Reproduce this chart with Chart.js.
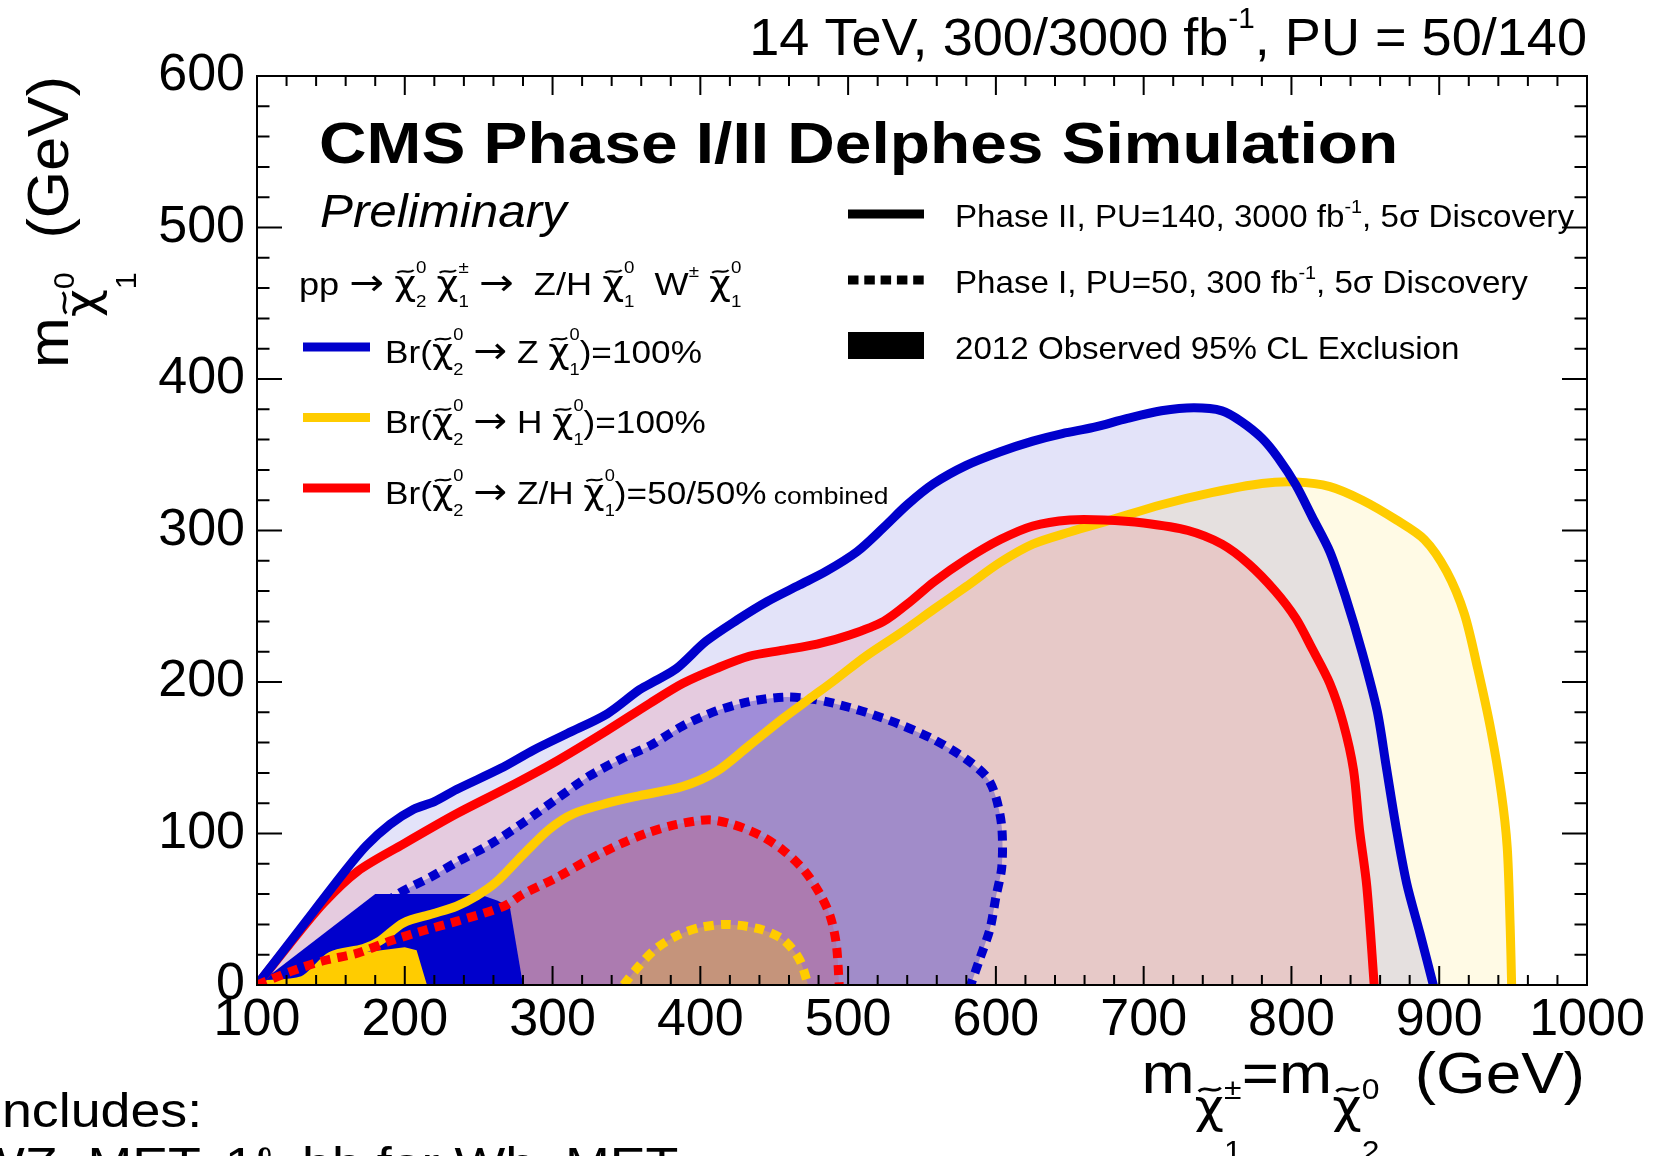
<!DOCTYPE html>
<html>
<head>
<meta charset="utf-8">
<script src="https://cdn.jsdelivr.net/npm/chart.js@4.4.1/dist/chart.umd.min.js"></script>
<style>
  html, body { margin: 0; padding: 0; background: #fff; }
  canvas { display: block; }
</style>
</head>
<body>
<canvas id="grafica" width="1657" height="1156"></canvas>
<script>
(function () {

  // ejes (GeV)
  const xTicks = [100, 200, 300, 400, 500, 600, 700, 800, 900, 1000];
  const yTicks = [0, 100, 200, 300, 400, 500, 600];

  // contornos de descubrimiento 5 sigma: [m(chi1+-)=m(chi2^0), m(chi1^0)]
  const faseIIZ = [[100,0],[130,38],[161,77],[174,92],[190,106],[206,116],[220,121],[235,129],[265,143],[287,155],[310,166],[337,179],[359,195],[370,201],[384,209],[404,227],[425,241],[445,253],[467,264],[485,273],[506,286],[524,302],[540,317],[558,331],[580,343],[603,352],[625,359],[645,364],[666,368],[689,374],[712,379],[734,381],[753,379],[766,372],[780,361],[791,348],[803,330],[814,309],[826,286],[837,255],[848,219],[858,181],[864,145],[871,103],[878,67],[887,34],[896,0]];
  const faseIIH = [[100,0],[131,3],[150,19],[172,24],[183,29],[199,41],[219,47],[235,52],[249,59],[262,68],[280,86],[298,103],[314,113],[337,120],[359,125],[388,131],[411,141],[433,158],[456,176],[474,189],[492,202],[512,217],[535,232],[558,248],[580,263],[603,279],[625,291],[650,299],[678,307],[712,317],[746,325],[780,331],[803,332],[826,329],[848,320],[871,307],[890,294],[905,273],[917,245],[926,209],[935,168],[942,127],[946,91],[948,39],[949,0]];
  const faseIIZH = [[100,0],[122,27],[145,54],[168,75],[199,93],[235,113],[269,130],[303,148],[337,168],[366,186],[388,199],[411,209],[433,217],[456,221],[479,225],[501,231],[524,240],[542,253],[558,266],[580,281],[603,294],[625,303],[650,307],[673,307],[700,305],[730,300],[753,291],[771,278],[789,260],[803,242],[814,222],[826,199],[835,173],[842,142],[846,103],[851,65],[856,0]];
  const faseIZ = [[100,0],[118,8],[150,30],[197,61],[217,71],[235,81],[258,93],[280,107],[303,123],[325,138],[348,150],[366,158],[388,171],[411,181],[433,187],[456,190],[474,189],[490,186],[512,180],[535,172],[558,162],[580,149],[594,137],[600,124],[604,104],[604,78],[600,58],[596,37],[589,17],[583,0]];
  const faseIZH = [[100,0],[123,9],[145,16],[168,21],[190,29],[213,36],[235,42],[267,52],[280,60],[303,71],[325,83],[348,94],[366,101],[384,106],[406,109],[422,106],[440,99],[456,89],[470,76],[481,60],[488,45],[492,27],[494,0]];
  const faseIH = [[348,0],[358,12],[370,24],[385,33],[400,38],[418,40],[440,37],[456,30],[467,17],[473,0]];

  // exclusion observada 2012 (95% CL)
  const excl2012Z = [[100,0],[180,60],[250,60],[262,56],[271,52],[280,0]];
  const excl2012H = [[131,0],[151,20],[180,22.5],[200,25],[208,23],[215,0]];

  const AZUL = '#0000cc';
  const AMARILLO = '#ffcc00';
  const ROJO = '#ff0000';
  const FUENTE = '"Liberation Sans", Helvetica, Arial, sans-serif';
  const GRIEGA = '"DejaVu Sans", sans-serif';
  const NADA = 'rgba(0,0,0,0)';

  const puntos = arr => arr.map(p => ({ x: p[0], y: p[1] }));

  function area(arr, color, order) {
    return { data: puntos(arr), showLine: true, fill: 'shape', backgroundColor: color,
      borderColor: NADA, borderWidth: 0, pointRadius: 0, tension: 0.3, clip: 0, order };
  }
  function linea(arr, color, punteada, order) {
    return { data: puntos(arr), showLine: true, fill: false, borderColor: color, borderWidth: 9,
      borderDash: punteada ? [10, 7] : [], borderCapStyle: 'butt', borderJoinStyle: 'round',
      pointRadius: 0, tension: 0.3, clip: 0, order };
  }
  function poligono(arr, color, order) {
    return { data: puntos(arr), showLine: true, fill: 'shape', backgroundColor: color,
      borderColor: NADA, borderWidth: 0, pointRadius: 0, tension: 0, clip: 0, order };
  }

  // texto con sub/superindices (estilo TLatex)
  function fuente(r, size) {
    return (r.w || '') + ' ' + (size * (r.s || 1)).toFixed(1) + 'px ' + (r.f || FUENTE);
  }
  function medir(ctx, r, size) {
    ctx.font = fuente(r, size);
    return ctx.measureText(r.t).width;
  }
  function ancho(ctx, runs, size) {
    let w = 0;
    runs.forEach(r => {
      w += r.pila ? Math.max(...r.pila.map(p => medir(ctx, p, size))) : medir(ctx, r, size);
    });
    return w;
  }
  function texto(ctx, runs, x, y, size, align, sx) {
    sx = sx || 1;
    const w = ancho(ctx, runs, size) * sx;
    if (align === 'right') x -= w;
    ctx.save();
    ctx.translate(x, y);
    ctx.scale(sx, 1);
    ctx.textBaseline = 'alphabetic';
    ctx.textAlign = 'left';
    let cx = 0;
    runs.forEach(r => {
      const items = r.pila ? r.pila : [r];
      let adv = 0;
      items.forEach(p => {
        ctx.font = fuente(p, size);
        const py = (p.dy || 0) * size;
        const wp = ctx.measureText(p.t).width;
        ctx.fillText(p.t, cx, py);
        if (p.tilde) {
          const fs = size * (p.s || 1);
          const W = wp * 0.75, x0 = cx + wp * 0.14, ty = py - fs * 0.7, a = fs * 0.04;
          ctx.save();
          ctx.lineWidth = fs * 0.06;
          ctx.strokeStyle = '#000';
          ctx.beginPath();
          ctx.moveTo(x0, ty + a);
          ctx.bezierCurveTo(x0 + W * 0.35, ty - 2.6 * a, x0 + W * 0.65, ty + 2.6 * a, x0 + W, ty - a);
          ctx.stroke();
          ctx.restore();
        }
        adv = Math.max(adv, wp);
      });
      cx += adv;
    });
    ctx.restore();
  }
  const T = (t, o) => Object.assign({ t }, o || {});
  const FLECHA = T('\u2192', { f: GRIEGA, s: 1.15 });
  // chi tilde dentro del texto de la leyenda
  const chiL = (sup, sub) => [T('χ', { tilde: true, f: GRIEGA, s: 1.05 }),
    { pila: [T(sup, { s: 0.52, dy: -0.7 }), T(sub, { s: 0.52, dy: 0.38 })] }];
  // chi tilde como subindice de m
  const chiM = (sup, sub) => [T('χ', { tilde: true, f: GRIEGA, s: 0.8, dy: 0.5 }),
    { pila: [T(sup, { s: 0.5, dy: 0.1 }), T(sub, { s: 0.5, dy: 1.17 })] }];

  const tituloX = [T('m'), ...chiM('±', '1'), T('=m'), ...chiM('0', '2'), T('  (GeV)')];
  const tituloY = [T('m'), ...chiM('0', '1'), T('  (GeV)')];
  const cabecera = [T('14 TeV, 300/3000 fb'), T('-1', { s: 0.55, dy: -0.52 }), T(', PU = 50/140')];
  const proceso = [T('pp '), FLECHA, T(' '), ...chiL('0', '2'), T(' '), ...chiL('±', '1'), T(' '), FLECHA,
    T('  Z/H '), ...chiL('0', '1'), T('  W'), T('±', { s: 0.52, dy: -0.55 }), T(' '), ...chiL('0', '1')];
  const leyendaIzq = [
    { color: AZUL, runs: [T('Br('), ...chiL('0', '2'), T(' '), FLECHA, T(' Z '), ...chiL('0', '1'), T(')=100%')] },
    { color: AMARILLO, runs: [T('Br('), ...chiL('0', '2'), T(' '), FLECHA, T(' H '), ...chiL('0', '1'), T(')=100%')] },
    { color: ROJO, runs: [T('Br('), ...chiL('0', '2'), T(' '), FLECHA, T(' Z/H '), ...chiL('0', '1'), T(')=50/50%'), T(' combined', { s: 0.75 })] }
  ];
  const leyendaDer = [
    { tipo: 'solida', runs: [T('Phase II, PU=140, 3000 fb'), T('-1', { s: 0.6, dy: -0.45 }), T(', 5σ Discovery')] },
    { tipo: 'punteada', runs: [T('Phase I, PU=50, 300 fb'), T('-1', { s: 0.6, dy: -0.45 }), T(', 5σ Discovery')] },
    { tipo: 'caja', runs: [T('2012 Observed 95% CL Exclusion')] }
  ];

  const decorado = {
    id: 'decorado',
    beforeDraw(chart) {
      const ctx = chart.ctx;
      ctx.save();
      ctx.fillStyle = '#fff';
      ctx.fillRect(0, 0, chart.width, chart.height);
      ctx.restore();
    },
    afterDraw(chart) {
      const { ctx, chartArea: a, scales: { x, y } } = chart;
      ctx.save();
      ctx.strokeStyle = '#000';
      ctx.fillStyle = '#000';
      ctx.lineWidth = 2;
      ctx.setLineDash([]);
      ctx.strokeRect(a.left, a.top, a.right - a.left, a.bottom - a.top);
      ctx.beginPath();
      for (let v = xTicks[0]; v <= xTicks[xTicks.length - 1]; v += 20) {
        const px = x.getPixelForValue(v);
        const l = v % 100 === 0 ? 19 : 10;
        ctx.moveTo(px, a.bottom); ctx.lineTo(px, a.bottom - l);
        ctx.moveTo(px, a.top); ctx.lineTo(px, a.top + l);
      }
      for (let v = yTicks[0]; v <= yTicks[yTicks.length - 1]; v += 20) {
        const py = y.getPixelForValue(v);
        const l = v % 100 === 0 ? 25 : 12.5;
        ctx.moveTo(a.left, py); ctx.lineTo(a.left + l, py);
        ctx.moveTo(a.right, py); ctx.lineTo(a.right - l, py);
      }
      ctx.stroke();

      // textos
      texto(ctx, cabecera, 1587, 55, 52, 'right', 1.04);
      texto(ctx, [T('CMS Phase I/II Delphes Simulation', { w: 'bold' })], 319, 163, 58, 'left', 1.135);
      texto(ctx, [T('Preliminary', { w: 'italic' })], 320, 227, 47, 'left', 1.05);
      texto(ctx, proceso, 299, 295, 32, 'left', 1.13);

      // leyenda izquierda
      leyendaIzq.forEach((e, i) => {
        const yy = 347 + i * 70.5;
        ctx.strokeStyle = e.color;
        ctx.lineWidth = 9;
        ctx.beginPath(); ctx.moveTo(303, yy); ctx.lineTo(370, yy); ctx.stroke();
        ctx.fillStyle = '#000';
        texto(ctx, e.runs, 385, yy + 15.5, 32, 'left', 1.1);
      });

      // leyenda derecha
      leyendaDer.forEach((e, i) => {
        const yy = 214 + i * 66;
        ctx.strokeStyle = '#000';
        ctx.fillStyle = '#000';
        if (e.tipo === 'caja') {
          ctx.fillRect(848, 332, 76, 27);
        } else {
          ctx.lineWidth = 9;
          ctx.setLineDash(e.tipo === 'punteada' ? [10.5, 5.8] : []);
          ctx.beginPath(); ctx.moveTo(848, yy); ctx.lineTo(924, yy); ctx.stroke();
          ctx.setLineDash([]);
        }
        texto(ctx, e.runs, 955, yy + 13, 32, 'left', 1.035);
      });

      // titulos de ejes
      texto(ctx, tituloX, 1585, 1093, 58, 'right', 1.1);
      ctx.save();
      ctx.translate(68, 76);
      ctx.rotate(-Math.PI / 2);
      texto(ctx, tituloY, 0, 0, 58, 'right', 1.05);
      ctx.restore();

      // nota inferior (cortada en el original)
      texto(ctx, [T('Includes:')], -13, 1127, 48, 'left', 1.12);
      texto(ctx, [T('WZ, MET, 1ℓ, bb for Wh, MET')], -26, 1181, 48, 'left', 1.12);
      ctx.restore();
    }
  };

  const ctx = document.getElementById('grafica');
  new Chart(ctx, {
    type: 'scatter',
    data: {
      datasets: [
        area(faseIIZ, 'rgba(0,0,204,0.11)', 20),
        area(faseIIH, 'rgba(255,204,0,0.10)', 19),
        area(faseIIZH, 'rgba(255,0,0,0.10)', 18),
        area(faseIZ, 'rgba(0,0,204,0.30)', 17),
        area(faseIZH, 'rgba(255,0,0,0.12)', 16),
        area(faseIH, 'rgba(255,204,0,0.30)', 15),
        linea(faseIZ, AZUL, true, 14),
        poligono(excl2012Z, AZUL, 13),
        linea(faseIIH, AMARILLO, false, 12),
        poligono(excl2012H, AMARILLO, 11),
        linea(faseIIZH, ROJO, false, 10),
        linea(faseIIZ, AZUL, false, 9),
        linea(faseIZH, ROJO, true, 8),
        linea(faseIH, AMARILLO, true, 7)
      ]
    },
    options: {
      responsive: false,
      devicePixelRatio: 1,
      animation: false,
      events: [],
      layout: { padding: { top: 76, right: 70, left: 0, bottom: 0 } },
      plugins: { legend: { display: false }, tooltip: { enabled: false } },
      scales: {
        x: {
          type: 'linear', min: 100, max: 1000,
          grid: { display: false, drawTicks: false },
          border: { display: false },
          afterFit: s => { s.height = 171; },
          ticks: { stepSize: 100, maxRotation: 0, autoSkip: false, padding: 4, color: '#000',
            font: { family: FUENTE, size: 52 }, callback: v => String(v) }
        },
        y: {
          type: 'linear', min: 0, max: 600,
          grid: { display: false, drawTicks: false },
          border: { display: false },
          afterFit: s => { s.width = 257; },
          ticks: { stepSize: 100, autoSkip: false, padding: 12, color: '#000',
            font: { family: FUENTE, size: 52 }, callback: v => String(v) }
        }
      }
    },
    plugins: [decorado]
  });

})();
</script>
</body>
</html>
